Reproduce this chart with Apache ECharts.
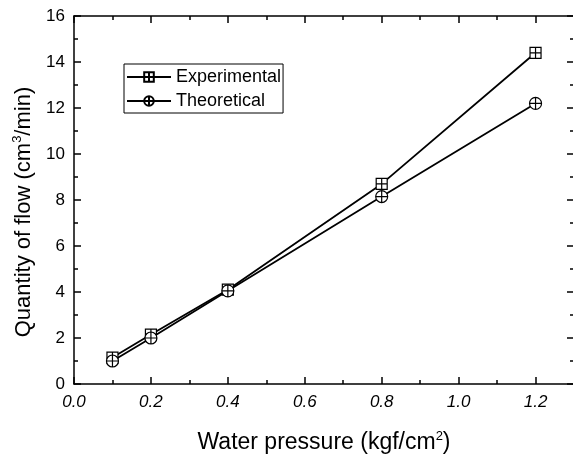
<!DOCTYPE html>
<html>
<head>
<meta charset="utf-8">
<script src="https://cdn.jsdelivr.net/npm/echarts@6/dist/echarts.min.js"></script>
<style>
  html, body { margin: 0; padding: 0; background: #fff; }
  #chart { width: 573px; height: 456px; }
</style>
</head>
<body>
<div id="chart"></div>
<script>
// water pressure (kgf/cm2)
var pressure = [0.1, 0.2, 0.4, 0.8, 1.2];
// quantity of flow (cm3/min)
var experimental = [1.15, 2.15, 4.1, 8.7, 14.4];
var theoretical = [1.0, 2.0, 4.05, 8.15, 12.2];

var squareCross = "path://M0,0 L10,0 L10,10 L0,10 Z M5,0 L5,10 M0,5 L10,5";
var circleCross = "path://M5,0 A5,5 0 1,1 4.99,0 Z M5,0 L5,10 M0,5 L10,5";

function pairs(ys) {
  return pressure.map(function (x, i) { return [x, ys[i]]; });
}

var font = "'Liberation Sans', Arial, sans-serif";
var chart = echarts.init(document.getElementById("chart"));

var lineSt = { color: "#000", width: 1.5 };
function frameAxis(pos, min, max, step) {
  return {
    type: "value",
    min: min,
    max: max,
    interval: step,
    position: pos,
    axisLine: { onZero: false, lineStyle: lineSt },
    axisTick: { inside: true, length: 7, lineStyle: lineSt },
    minorTick: { show: true, splitNumber: 2, length: 4, lineStyle: lineSt },
    axisLabel: { show: false },
    splitLine: { show: false }
  };
}

var xBottom = frameAxis("bottom", 0, 1.3, 0.2);
xBottom.name = "Water pressure (kgf/cm{sup|2})";
xBottom.nameLocation = "middle";
xBottom.nameGap = 46;
xBottom.nameTextStyle = {
  fontFamily: font, fontSize: 23, color: "#000",
  rich: { sup: { fontSize: 13, padding: [0, 0, 12, 0], fontFamily: font } }
};
xBottom.axisLabel = {
  show: true, fontFamily: font, fontSize: 17, fontStyle: "italic", color: "#000", margin: 10,
  formatter: function (v) { return v > 1.25 ? "" : v.toFixed(1); }
};

var yLeft = frameAxis("left", 0, 16, 2);
yLeft.name = "Quantity of flow (cm{sup|3}/min)";
yLeft.nameLocation = "middle";
yLeft.nameGap = 38;
yLeft.nameRotate = 90;
yLeft.nameTextStyle = {
  fontFamily: font, fontSize: 22, color: "#000", padding: [0, 24, 0, 0],
  rich: { sup: { fontSize: 13, padding: [0, 0, 12, 0], fontFamily: font } }
};
yLeft.axisLabel = { show: true, fontFamily: font, fontSize: 17, color: "#000", margin: 9 };

var option = {
  backgroundColor: "#fff",
  animation: false,
  grid: { left: 74, top: 16, width: 500, height: 368, outerBoundsMode: "none", containLabel: false },
  legend: {
    orient: "vertical",
    left: 124,
    top: 64,
    itemWidth: 44,
    itemHeight: 12,
    itemGap: 6,
    padding: [4, 2, 3, 2],
    borderColor: "#000",
    borderWidth: 1,
    textStyle: { fontFamily: font, fontSize: 18, color: "#000" },
    data: ["Experimental", "Theoretical"]
  },
  xAxis: [xBottom, frameAxis("top", 0, 1.3, 0.2)],
  yAxis: [yLeft, frameAxis("right", 0, 16, 2)],
  series: [
    {
      name: "Experimental",
      type: "line",
      data: pairs(experimental),
      symbol: squareCross,
      symbolSize: 11,
      lineStyle: { color: "#000", width: 1.8 },
      itemStyle: { color: "#fff", borderColor: "#000", borderWidth: 1.2 }
    },
    {
      name: "Theoretical",
      type: "line",
      data: pairs(theoretical),
      symbol: circleCross,
      symbolSize: 12,
      lineStyle: { color: "#000", width: 1.8 },
      itemStyle: { color: "#fff", borderColor: "#000", borderWidth: 1.2 }
    }
  ]
};

chart.setOption(option);
</script>
</body>
</html>
